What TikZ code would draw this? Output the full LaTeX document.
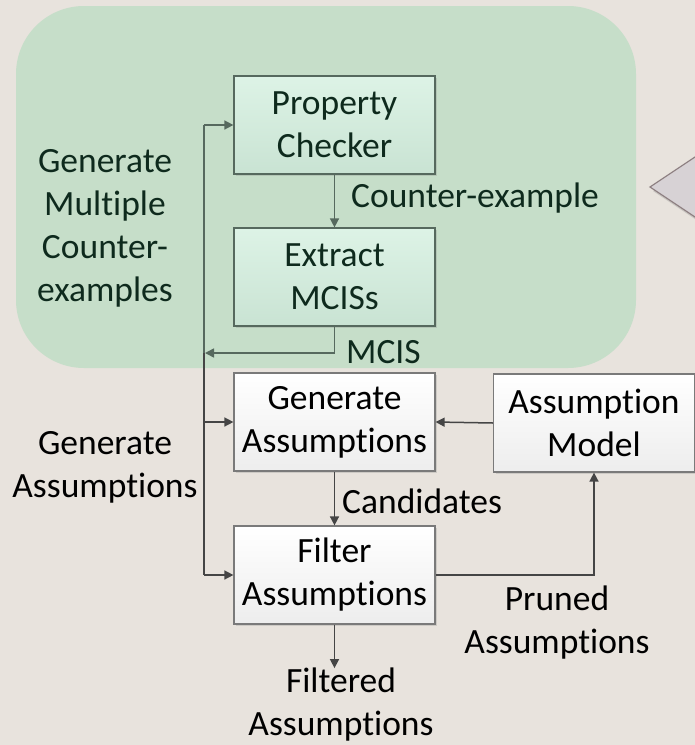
\documentclass[tikz,border=0pt]{standalone}
\usepackage{fontspec}
\setmainfont{Carlito}[Ligatures=NoCommon]
\usetikzlibrary{arrows.meta,shadows,calc}

\definecolor{paper}{HTML}{E8E3DD}
\definecolor{panel}{HTML}{C6DEC9}
\definecolor{mintTop}{HTML}{DDF3E6}
\definecolor{mintBot}{HTML}{C9E3D3}
\definecolor{mintLine}{HTML}{56695E}
\definecolor{greenInk}{HTML}{0E2A1D}
\definecolor{greyLine}{HTML}{7A7A7A}
\definecolor{flowLine}{HTML}{454545}
\definecolor{pointerFill}{HTML}{D7D2D5}
\definecolor{pointerLine}{HTML}{8E8082}

\begin{document}
\begin{tikzpicture}[x=1pt,y=-1pt,
  txt/.style={font=\fontsize{35.5}{43}\selectfont, align=center},
  lbl/.style={txt, inner sep=0pt},
  stage/.style={txt, minimum width=201pt, minimum height=98pt, inner sep=0pt,
    line width=1.2pt,
    drop shadow={shadow xshift=2pt, shadow yshift=-2pt, opacity=0.25}},
  greenbox/.style={stage, draw=mintLine, top color=mintTop, bottom color=mintBot, text=greenInk},
  whitebox/.style={stage, draw=greyLine, top color=white, bottom color=black!7},
  link/.style={line width=1.5pt, draw=flowLine},
  arr/.style={link, -{Triangle[length=9pt,width=9pt]}},
  glink/.style={link, draw=mintLine},
  garr/.style={arr, draw=mintLine}
]
\clip (0,0) rectangle (695,745);
\fill[paper] (0,0) rectangle (695,745);

% green panel around the counter-example loop
\fill[panel, rounded corners=68pt] (16,6) rectangle (636,368);

% callout pointer on the right
\filldraw[fill=pointerFill, draw=pointerLine, line width=1.2pt,
  drop shadow={shadow xshift=3pt, shadow yshift=-4pt, opacity=0.3}]
  (650,187) -- (725,137) -- (725,237) -- cycle;

% stages
\node[greenbox] (pc) at (334.5,125) {Property\\Checker};
\node[greenbox] (em) at (334.5,277) {Extract\\MCISs};
\node[whitebox] (ga) at (334.5,422) {Generate\\Assumptions};
\node[whitebox] (fa) at (334.5,575) {Filter\\Assumptions};
\node[whitebox] (am) at (594,423) {Assumption\\Model};

% labels
\node[lbl, text=greenInk] (gmc) at (105,228) {Generate\\Multiple\\Counter-\\examples};
\node[lbl, text=greenInk, anchor=base west] (cex) at (351,207) {Counter-example};
\node[lbl, text=greenInk, anchor=base west] (mcis) at (346,363) {MCIS};
\node[lbl] (gal) at (105,467) {Generate\\Assumptions};
\node[lbl, anchor=base west] (cand) at (342,513) {Candidates};
\node[lbl] (pruned) at (557,623) {Pruned\\Assumptions};
\node[lbl] (filt) at (341,705) {Filtered\\Assumptions};

% feedback bus on the left
\coordinate (busTop) at (204,125);
\coordinate (busBot) at (204,575);
\coordinate (mcisEnd) at (205,353);

\draw[glink] (busTop) -- (busTop |- mcisEnd);
\draw[link] (busTop |- mcisEnd) -- (busBot);
\draw[garr] (busTop) -- (pc.west);
\draw[garr] (pc.south) -- (em.north);
\draw[garr] (em.south) |- (mcisEnd);
\draw[arr] (busTop |- ga.west) -- (ga.west);
\draw[arr] (busBot) -- (fa.west);

% assumption flow
\draw[arr] (ga.south) -- (fa.north);
\draw[arr] (am.west) -- (ga.east);
\draw[arr] (fa.east) -| (am.south);
\draw[arr] (fa.south) -- (fa.south |- filt.north);
\end{tikzpicture}
\end{document}
